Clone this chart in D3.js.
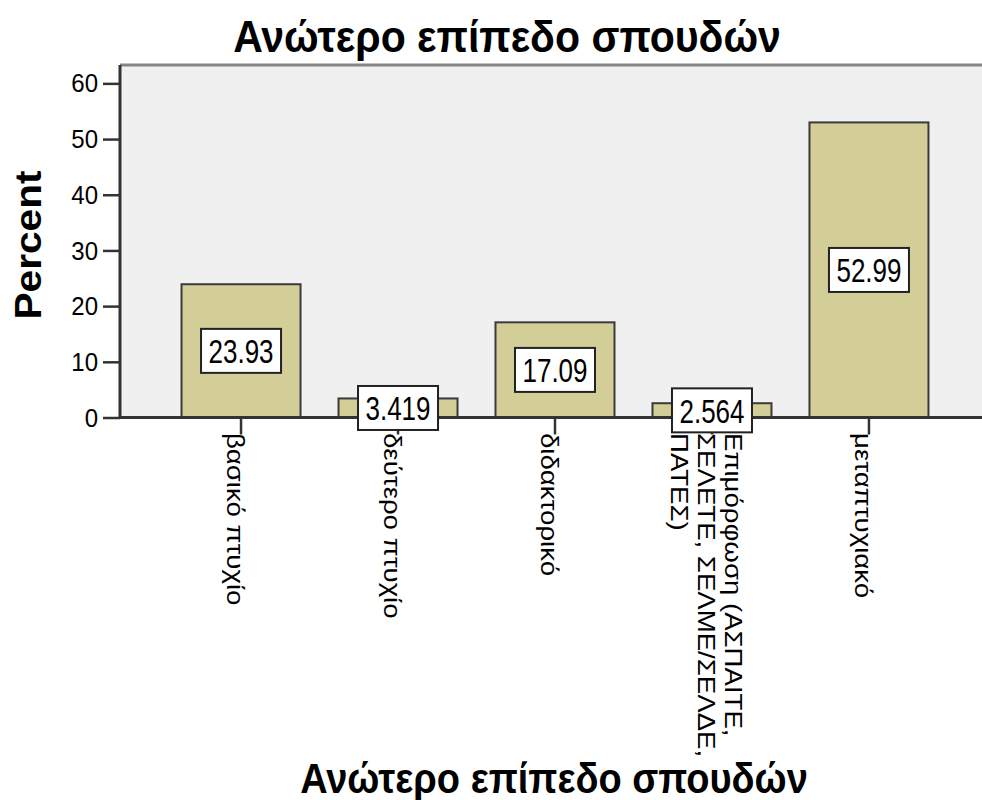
<!DOCTYPE html>
<html>
<head>
<meta charset="utf-8">
<script src="https://cdn.jsdelivr.net/npm/d3@7"></script>
<style>
  body { margin: 0; background: #fff; }
  text { font-family: "Liberation Sans", Arial, sans-serif; fill: #000; }
</style>
</head>
<body>
<div id="chart"></div>
<script>
var title = 'Ανώτερο επίπεδο σπουδών';
var yTitle = 'Percent';
var categories = ['βασικό πτυχίο', 'δεύτερο πτυχίο', 'διδακτορικό',
                  'Επιμόρφωση (ΑΣΠΑΙΤΕ, ΣΕΛΕΤΕ, ΣΕΛΜΕ/ΣΕΛΔΕ, ΠΑΤΕΣ)', 'μεταπτυχιακό'];
var categoryLines = [['βασικό πτυχίο'], ['δεύτερο πτυχίο'], ['διδακτορικό'],
                     ['Επιμόρφωση (ΑΣΠΑΙΤΕ,', 'ΣΕΛΕΤΕ, ΣΕΛΜΕ/ΣΕΛΔΕ,', 'ΠΑΤΕΣ)'], ['μεταπτυχιακό']];
var percents = [23.93, 3.419, 17.09, 2.564, 52.99];
var yTicks = [0, 10, 20, 30, 40, 50, 60];

var width = 982, height = 800;
var plot = {left: 120, right: 990, top: 65, bottom: 417.5};

var svg = d3.select('#chart').append('svg')
    .attr('width', width)
    .attr('height', height);

var x = d3.scaleBand()
    .domain(categories)
    .range([plot.left, plot.right])
    .paddingInner(0.242)
    .paddingOuter(0.392);

var y = d3.scaleLinear()
    .domain([0, 63.3])
    .range([plot.bottom, plot.top]);

var fmt = d3.format('.4');

// text stretched vertically like the original export
function stretchedText(parent, tx, ty, k, rot) {
    var g = parent.append('g')
        .attr('transform', 'translate(' + tx + ',' + ty + ') scale(1,' + k + ')' + (rot ? ' rotate(' + rot + ')' : ''));
    return g.append('text');
}

// plot background
svg.append('rect')
    .attr('x', plot.left)
    .attr('y', plot.top)
    .attr('width', plot.right - plot.left)
    .attr('height', plot.bottom - plot.top)
    .attr('fill', '#f0f0f0');

svg.append('line')
    .attr('x1', plot.left).attr('x2', plot.right)
    .attr('y1', plot.top).attr('y2', plot.top)
    .attr('stroke', '#858585')
    .attr('stroke-width', 3);

// bars
svg.selectAll('.bar')
    .data(percents)
    .enter().append('rect')
    .attr('class', 'bar')
    .attr('x', (d, i) => x(categories[i]))
    .attr('y', d => y(d))
    .attr('width', x.bandwidth())
    .attr('height', d => y(0) - y(d))
    .attr('fill', '#d3ce97')
    .attr('stroke', '#3a3a3a')
    .attr('stroke-width', 2);

// y axis
var yAxis = d3.axisLeft(y).tickValues(yTicks).tickSize(17).tickFormat('');
var yg = svg.append('g')
    .attr('transform', 'translate(' + plot.left + ',0)')
    .call(yAxis);
yg.select('.domain').remove();
yg.selectAll('.tick line').attr('stroke', '#333').attr('stroke-width', 2.5);
svg.append('line')
    .attr('x1', plot.left).attr('x2', plot.left)
    .attr('y1', plot.top).attr('y2', plot.bottom)
    .attr('stroke', '#333').attr('stroke-width', 3);

yTicks.forEach(function(t) {
    stretchedText(svg, 98, y(t), 1.05)
        .attr('text-anchor', 'end')
        .attr('dy', '0.36em')
        .style('font-size', '24px')
        .text(t);
});

// x axis
var xAxis = d3.axisBottom(x).tickSize(17).tickFormat('');
var xg = svg.append('g')
    .attr('transform', 'translate(0,' + plot.bottom + ')')
    .call(xAxis);
xg.select('.domain').remove();
xg.selectAll('.tick line').attr('stroke', '#333').attr('stroke-width', 2.5);
svg.append('line')
    .attr('x1', plot.left).attr('x2', width)
    .attr('y1', plot.bottom).attr('y2', plot.bottom)
    .attr('stroke', '#333').attr('stroke-width', 3);

// category labels, rotated, wrapped lines centred on the tick
categories.forEach(function(c, i) {
    var cx = x(c) + x.bandwidth() / 2;
    var lines = categoryLines[i];
    lines.forEach(function(line, j) {
        var bx = cx - 14 + ((lines.length - 1) / 2 - j) * 27;
        stretchedText(svg, bx, 433, 1.2, 90)
            .attr('text-anchor', 'start')
            .style('font-size', '23px')
            .text(line);
    });
});

// value labels
var boxW = 80, boxH = 44;
percents.forEach(function(d, i) {
    var cx = x(categories[i]) + x.bandwidth() / 2;
    var cy = (y(d) + y(0)) / 2;
    svg.append('rect')
        .attr('x', cx - boxW / 2)
        .attr('y', cy - boxH / 2)
        .attr('width', boxW)
        .attr('height', boxH)
        .attr('fill', '#fff')
        .attr('stroke', '#222')
        .attr('stroke-width', 2);
    stretchedText(svg, cx, cy, 1.3)
        .attr('text-anchor', 'middle')
        .attr('dy', '0.36em')
        .style('font-size', '26px')
        .text(fmt(d));
});

// titles
stretchedText(svg, 507, 52, 1.1)
    .attr('text-anchor', 'middle')
    .style('font-size', '41px')
    .style('font-weight', 'bold')
    .text(title);

stretchedText(svg, 554, 793, 1.1)
    .attr('text-anchor', 'middle')
    .style('font-size', '38px')
    .style('font-weight', 'bold')
    .text(title);

stretchedText(svg, 41, 245, 1.1, -90)
    .attr('text-anchor', 'middle')
    .style('font-size', '37px')
    .style('font-weight', 'bold')
    .text(yTitle);
</script>
</body>
</html>
